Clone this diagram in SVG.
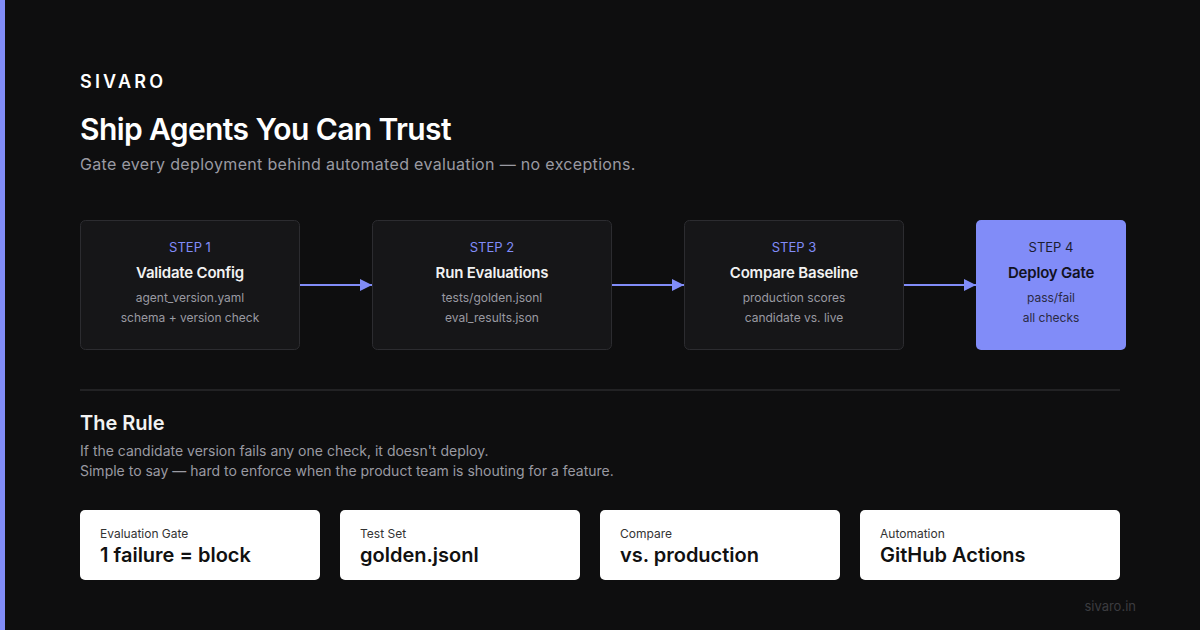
<svg xmlns="http://www.w3.org/2000/svg" width="1200" height="630" viewBox="0 0 1200 630">
<defs>
<marker id="ah" viewBox="0 0 12 12" refX="12" refY="6" markerWidth="12" markerHeight="12" markerUnits="userSpaceOnUse" orient="auto">
<path d="M0,0 L12,6 L0,12 z" fill="#818cf8"/>
</marker>
<style>
text{font-family:Inter,"Liberation Sans",sans-serif}
.box{fill:#161618;stroke:#2c2c30;stroke-width:1}
.step{font-size:13px;fill:#818cf8;text-anchor:middle}
.ttl{font-size:15px;font-weight:600;fill:#f2f2f2;text-anchor:middle;letter-spacing:-0.2px}
.sub{font-size:12px;fill:#9a9aa2;text-anchor:middle}
.card{fill:#ffffff}
.clab{font-size:12px;fill:#333333}
.cval{font-size:20px;font-weight:600;fill:#111111}
.conn{stroke:#818cf8;stroke-width:2;fill:none}
</style>
</defs>
<rect width="1200" height="630" fill="#0e0e0f"/>
<rect x="0" y="0" width="5" height="630" fill="#818cf8"/>
<text x="80" y="88" font-size="18" font-weight="600" fill="#ffffff" letter-spacing="3.2">SIVARO</text>
<text x="80" y="140" font-size="30" font-weight="600" fill="#ffffff" letter-spacing="-0.6">Ship Agents You Can Trust</text>
<text x="80" y="170" font-size="16" fill="#9a9aa2" letter-spacing="0.33">Gate every deployment behind automated evaluation — no exceptions.</text>

<g id="connectors">
<line class="conn" x1="300" y1="285" x2="372" y2="285" marker-end="url(#ah)"/>
<line class="conn" x1="612" y1="285" x2="684" y2="285" marker-end="url(#ah)"/>
<line class="conn" x1="904" y1="285" x2="976" y2="285" marker-end="url(#ah)"/>
</g>

<g id="step1">
<rect class="box" x="80.5" y="220.5" width="219" height="129" rx="5"/>
<text class="step" x="190" y="252">STEP 1</text>
<text class="ttl" x="190" y="278">Validate Config</text>
<text class="sub" x="190" y="302">agent_version.yaml</text>
<text class="sub" x="190" y="322">schema + version check</text>
</g>
<g id="step2">
<rect class="box" x="372.5" y="220.5" width="239" height="129" rx="5"/>
<text class="step" x="492" y="252">STEP 2</text>
<text class="ttl" x="492" y="278">Run Evaluations</text>
<text class="sub" x="492" y="302">tests/golden.jsonl</text>
<text class="sub" x="492" y="322">eval_results.json</text>
</g>
<g id="step3">
<rect class="box" x="684.5" y="220.5" width="219" height="129" rx="5"/>
<text class="step" x="794" y="252">STEP 3</text>
<text class="ttl" x="794" y="278">Compare Baseline</text>
<text class="sub" x="794" y="302">production scores</text>
<text class="sub" x="794" y="322">candidate vs. live</text>
</g>
<g id="step4">
<rect x="976" y="220" width="150" height="130" rx="5" fill="#818cf8"/>
<text class="step" x="1051" y="252" style="fill:#1c1c30">STEP 4</text>
<text class="ttl" x="1051" y="278" style="fill:#12121f">Deploy Gate</text>
<text class="sub" x="1051" y="302" style="fill:#2a2a44">pass/fail</text>
<text class="sub" x="1051" y="322" style="fill:#2a2a44">all checks</text>
</g>

<line x1="80" y1="390" x2="1120" y2="390" stroke="#2a2a2c" stroke-width="1.5"/>
<text x="80" y="430" font-size="20" font-weight="600" fill="#f2f2f2">The Rule</text>
<text x="80" y="456" font-size="14" fill="#9a9aa2">If the candidate version fails any one check, it doesn't deploy.</text>
<text x="80" y="476" font-size="14" fill="#9a9aa2">Simple to say — hard to enforce when the product team is shouting for a feature.</text>

<g id="card1">
<rect class="card" x="80" y="510" width="240" height="70" rx="5"/>
<text class="clab" x="100" y="538">Evaluation Gate</text>
<text class="cval" x="100" y="562">1 failure = block</text>
</g>
<g id="card2">
<rect class="card" x="340" y="510" width="240" height="70" rx="5"/>
<text class="clab" x="360" y="538">Test Set</text>
<text class="cval" x="360" y="562">golden.jsonl</text>
</g>
<g id="card3">
<rect class="card" x="600" y="510" width="240" height="70" rx="5"/>
<text class="clab" x="620" y="538">Compare</text>
<text class="cval" x="620" y="562">vs. production</text>
</g>
<g id="card4">
<rect class="card" x="860" y="510" width="260" height="70" rx="5"/>
<text class="clab" x="880" y="538">Automation</text>
<text class="cval" x="880" y="562">GitHub Actions</text>
</g>
<text x="1136" y="611" font-size="13" fill="#3c3c40" text-anchor="end">sivaro.in</text>
</svg>
